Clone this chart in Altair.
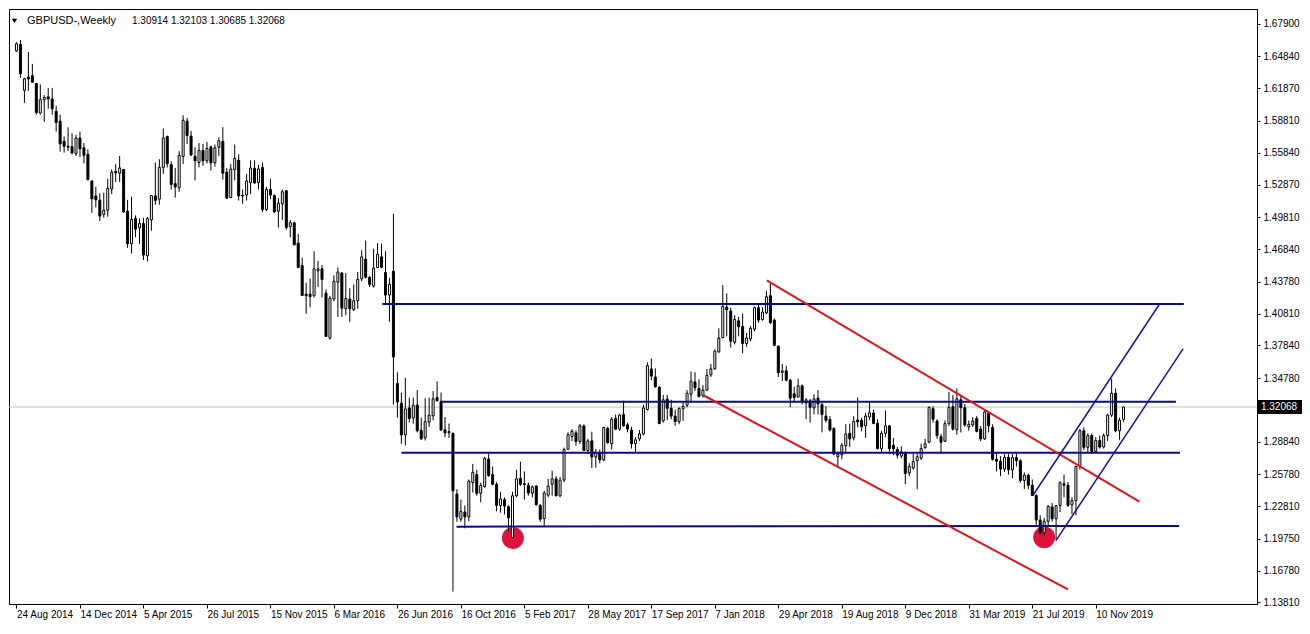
import json
import altair as alt
import pandas as pd

# ---------------- weekly GBPUSD candles ----------------
open_ = [1.6536, 1.6597, 1.6168, 1.6290, 1.6305, 1.6232, 1.5955, 1.6080, 1.6107, 1.6086,
         1.5971, 1.5880, 1.5691, 1.5645, 1.5642, 1.5576, 1.5722, 1.5630, 1.5569, 1.5320,
         1.5180, 1.5140, 1.5007, 1.5047, 1.5245, 1.5410, 1.5393, 1.5427, 1.5037, 1.4733,
         1.4970, 1.4882, 1.4922, 1.4621, 1.4955, 1.5180, 1.5150, 1.5447, 1.5736, 1.5472,
         1.5295, 1.5256, 1.5548, 1.5879, 1.5740, 1.5551, 1.5493, 1.5606, 1.5508, 1.5639,
         1.5490, 1.5635, 1.5690, 1.5402, 1.5165, 1.5426, 1.5514, 1.5186, 1.5189, 1.5305,
         1.5438, 1.5305, 1.5447, 1.5052, 1.5241, 1.5183, 1.5037, 1.5107, 1.5229, 1.4894,
         1.4928, 1.4739, 1.4529, 1.4262, 1.4262, 1.4247, 1.4481, 1.4499, 1.4271, 1.3851,
         1.4216, 1.4374, 1.4459, 1.4125, 1.4216, 1.4116, 1.4201, 1.4405, 1.4590, 1.4420,
         1.4338, 1.4511, 1.4611, 1.4465, 1.4253, 1.4475, 1.3426, 1.3243, 1.2946, 1.3198,
         1.3105, 1.3225, 1.2990, 1.2918, 1.3065, 1.3125, 1.3295, 1.3259, 1.2994, 1.2976,
         1.2960, 1.2392, 1.2158, 1.2225, 1.2180, 1.2500, 1.2575, 1.2400, 1.2462, 1.2720,
         1.2575, 1.2484, 1.2286, 1.2340, 1.2275, 1.1988, 1.2377, 1.2540, 1.2490, 1.2474,
         1.2402, 1.2468, 1.2286, 1.2164, 1.2383, 1.2484, 1.2535, 1.2377, 1.2523, 1.2812,
         1.2931, 1.2965, 1.2885, 1.3030, 1.2800, 1.2890, 1.2740, 1.2780, 1.2712, 1.3007,
         1.2864, 1.3101, 1.3000, 1.3137, 1.3040, 1.2992, 1.2864, 1.2909, 1.2955, 1.3183,
         1.3563, 1.3487, 1.3390, 1.3077, 1.3280, 1.3195, 1.3122, 1.3071, 1.3190, 1.3223,
         1.3326, 1.3441, 1.3381, 1.3314, 1.3365, 1.3508, 1.3563, 1.3721, 1.3855, 1.4141,
         1.4104, 1.3812, 1.4013, 1.3960, 1.3800, 1.3843, 1.3934, 1.4135, 1.4025, 1.4086,
         1.4247, 1.4019, 1.3776, 1.3530, 1.3545, 1.3457, 1.3330, 1.3300, 1.3405, 1.3244,
         1.3265, 1.3198, 1.3290, 1.3229, 1.3122, 1.3090, 1.3007, 1.2742, 1.2760, 1.2845,
         1.2961, 1.2918, 1.3086, 1.3083, 1.3031, 1.3113, 1.3150, 1.3055, 1.2818, 1.2961,
         1.3030, 1.2849, 1.2809, 1.2748, 1.2780, 1.2590, 1.2636, 1.2706, 1.2727, 1.2827,
         1.2878, 1.3191, 1.3076, 1.2930, 1.2887, 1.3051, 1.3210, 1.2995, 1.3275, 1.3200,
         1.3021, 1.3039, 1.3100, 1.3000, 1.2909, 1.3152, 1.3015, 1.2717, 1.2700, 1.2626,
         1.2735, 1.2620, 1.2735, 1.2705, 1.2520, 1.2570, 1.2475, 1.2380, 1.2150, 1.2030,
         1.2138, 1.2272, 1.2162, 1.2287, 1.2490, 1.2475, 1.2292, 1.2330, 1.2651, 1.2985,
         1.2830, 1.2940, 1.2790, 1.2894, 1.2833, 1.2940, 1.3131, 1.3335, 1.2985, 1.30914]
high = [1.6618, 1.6639, 1.6284, 1.6527, 1.6415, 1.6238, 1.6223, 1.6123, 1.6190, 1.6190,
        1.6025, 1.5940, 1.5737, 1.5822, 1.5767, 1.5752, 1.5782, 1.5676, 1.5615, 1.5326,
        1.5265, 1.5205, 1.5211, 1.5341, 1.5427, 1.5478, 1.5554, 1.5433, 1.5144, 1.5174,
        1.4998, 1.4968, 1.4977, 1.4983, 1.5189, 1.5493, 1.5524, 1.5812, 1.5745, 1.5502,
        1.5441, 1.5599, 1.5934, 1.5909, 1.5788, 1.5636, 1.5675, 1.5666, 1.5685, 1.5651,
        1.5660, 1.5727, 1.5824, 1.5441, 1.5478, 1.5660, 1.5569, 1.5241, 1.5387, 1.5514,
        1.5514, 1.5472, 1.5493, 1.5265, 1.5341, 1.5195, 1.5159, 1.5241, 1.5235, 1.4955,
        1.4940, 1.4824, 1.4602, 1.4368, 1.4408, 1.4663, 1.4572, 1.4535, 1.4307, 1.4247,
        1.4438, 1.4511, 1.4469, 1.4459, 1.4317, 1.4353, 1.4469, 1.4672, 1.4763, 1.4429,
        1.4687, 1.4739, 1.4733, 1.4663, 1.4414, 1.5013, 1.3532, 1.3341, 1.3478, 1.3295,
        1.3295, 1.3365, 1.3107, 1.3289, 1.3295, 1.3356, 1.3447, 1.3341, 1.3113, 1.3052,
        1.2970, 1.2438, 1.2341, 1.2286, 1.2529, 1.2675, 1.2620, 1.2499, 1.2742, 1.2772,
        1.2651, 1.2505, 1.2414, 1.2362, 1.2286, 1.2414, 1.2620, 1.2696, 1.2605, 1.2499,
        1.2474, 1.2474, 1.2301, 1.2423, 1.2535, 1.2611, 1.2560, 1.2554, 1.2827, 1.2970,
        1.3000, 1.2990, 1.3048, 1.3045, 1.2910, 1.2975, 1.2815, 1.2810, 1.3022, 1.3022,
        1.3113, 1.3137, 1.3143, 1.3265, 1.3061, 1.3022, 1.2925, 1.2992, 1.3229, 1.3624,
        1.3660, 1.3569, 1.3405, 1.3320, 1.3320, 1.3274, 1.3183, 1.3204, 1.3253, 1.3365,
        1.3539, 1.3533, 1.3466, 1.3411, 1.3563, 1.3609, 1.3745, 1.3943, 1.4347, 1.4268,
        1.4135, 1.4065, 1.4049, 1.4080, 1.3897, 1.3964, 1.4147, 1.4171, 1.4141, 1.4293,
        1.4359, 1.4034, 1.3782, 1.3610, 1.3593, 1.3472, 1.3396, 1.3472, 1.3417, 1.3289,
        1.3283, 1.3326, 1.3365, 1.3244, 1.3213, 1.3122, 1.3016, 1.2788, 1.2870, 1.3046,
        1.3052, 1.3122, 1.3295, 1.3107, 1.3153, 1.3253, 1.3183, 1.3092, 1.2985, 1.3174,
        1.3040, 1.2918, 1.2833, 1.2839, 1.2790, 1.2681, 1.2773, 1.2767, 1.2864, 1.2909,
        1.3213, 1.3213, 1.3091, 1.2954, 1.3082, 1.3349, 1.3319, 1.3380, 1.3319, 1.3234,
        1.3082, 1.3112, 1.3121, 1.3030, 1.3173, 1.3167, 1.3045, 1.2778, 1.2747, 1.2766,
        1.2772, 1.2766, 1.2780, 1.2717, 1.2595, 1.2583, 1.2529, 1.2392, 1.2194, 1.2170,
        1.2290, 1.2310, 1.2290, 1.2514, 1.2575, 1.2505, 1.2362, 1.2657, 1.3001, 1.3016,
        1.2961, 1.2960, 1.2925, 1.2940, 1.2961, 1.3143, 1.3472, 1.3381, 1.3107, 1.32103]
low = [1.6527, 1.6284, 1.6050, 1.6162, 1.6238, 1.5940, 1.5940, 1.5873, 1.5995, 1.5940,
       1.5782, 1.5594, 1.5585, 1.5600, 1.5569, 1.5554, 1.5545, 1.5484, 1.5326, 1.5022,
       1.5074, 1.4946, 1.4977, 1.4986, 1.5196, 1.5311, 1.5311, 1.5022, 1.4694, 1.4642,
       1.4794, 1.4733, 1.4581, 1.4566, 1.4855, 1.5098, 1.5098, 1.5387, 1.5447, 1.5241,
       1.5165, 1.5219, 1.5478, 1.5666, 1.5554, 1.5326, 1.5447, 1.5463, 1.5484, 1.5417,
       1.5453, 1.5554, 1.5332, 1.5159, 1.5159, 1.5326, 1.5137, 1.5107, 1.5137, 1.5198,
       1.5295, 1.5241, 1.5028, 1.5037, 1.5149, 1.5022, 1.4885, 1.4955, 1.4864, 1.4794,
       1.4718, 1.4505, 1.4244, 1.4079, 1.4140, 1.4231, 1.4329, 1.4231, 1.3861, 1.3836,
       1.4195, 1.4049, 1.4049, 1.4064, 1.4003, 1.4104, 1.4125, 1.4383, 1.4408, 1.4329,
       1.4323, 1.4505, 1.4505, 1.4171, 1.4003, 1.3228, 1.3107, 1.2863, 1.2848, 1.3061,
       1.3052, 1.2970, 1.2900, 1.2894, 1.3021, 1.3082, 1.3259, 1.2985, 1.2924, 1.2918,
       1.1480, 1.2134, 1.2134, 1.2073, 1.2140, 1.2408, 1.2377, 1.2316, 1.2453, 1.2554,
       1.2475, 1.2231, 1.2219, 1.2201, 1.2043, 1.1982, 1.2362, 1.2468, 1.2341, 1.2377,
       1.2362, 1.2286, 1.2134, 1.2088, 1.2362, 1.2377, 1.2371, 1.2362, 1.2505, 1.2805,
       1.2888, 1.2845, 1.2860, 1.2795, 1.2770, 1.2635, 1.2640, 1.2680, 1.2700, 1.2864,
       1.2809, 1.2990, 1.2985, 1.3022, 1.2970, 1.2818, 1.2773, 1.2888, 1.2940, 1.3174,
       1.3457, 1.3387, 1.3046, 1.3061, 1.3083, 1.3092, 1.3031, 1.3046, 1.3077, 1.3204,
       1.3244, 1.3356, 1.3295, 1.3295, 1.3356, 1.3487, 1.3557, 1.3715, 1.3850, 1.3867,
       1.3761, 1.3791, 1.3867, 1.3709, 1.3770, 1.3821, 1.3913, 1.3995, 1.4013, 1.4074,
       1.3983, 1.3776, 1.3487, 1.3450, 1.3447, 1.3204, 1.3259, 1.3295, 1.3229, 1.3092,
       1.3061, 1.3137, 1.3137, 1.2970, 1.3061, 1.2979, 1.2757, 1.2651, 1.2718, 1.2773,
       1.2833, 1.2894, 1.3016, 1.2979, 1.2918, 1.3083, 1.3046, 1.2809, 1.2788, 1.2925,
       1.2767, 1.2757, 1.2727, 1.2727, 1.2484, 1.2560, 1.2621, 1.2438, 1.2712, 1.2817,
       1.2869, 1.3061, 1.2909, 1.2766, 1.2878, 1.3030, 1.2985, 1.2948, 1.2969, 1.3021,
       1.2985, 1.3021, 1.2969, 1.2887, 1.2900, 1.2969, 1.2705, 1.2605, 1.2560, 1.2600,
       1.2574, 1.2540, 1.2650, 1.2498, 1.2440, 1.2437, 1.2377, 1.2103, 1.2015, 1.2000,
       1.2090, 1.2135, 1.1960, 1.2225, 1.2362, 1.2271, 1.2205, 1.2195, 1.2621, 1.2803,
       1.2779, 1.2767, 1.2779, 1.2818, 1.2818, 1.2888, 1.3113, 1.2970, 1.2900, 1.30685]
close = [1.6603, 1.6323, 1.6275, 1.6275, 1.6244, 1.5959, 1.6080, 1.6101, 1.6086, 1.5995,
         1.5867, 1.5667, 1.5645, 1.5636, 1.5582, 1.5722, 1.5621, 1.5560, 1.5332, 1.5153,
         1.5144, 1.4992, 1.5047, 1.5250, 1.5402, 1.5396, 1.5442, 1.5031, 1.4733, 1.4961,
         1.4870, 1.4922, 1.4627, 1.4968, 1.5183, 1.5138, 1.5448, 1.5721, 1.5484, 1.5289,
         1.5265, 1.5560, 1.5888, 1.5745, 1.5563, 1.5508, 1.5606, 1.5508, 1.5624, 1.5490,
         1.5630, 1.5697, 1.5393, 1.5159, 1.5432, 1.5530, 1.5180, 1.5180, 1.5320, 1.5441,
         1.5301, 1.5432, 1.5052, 1.5241, 1.5189, 1.5031, 1.5113, 1.5219, 1.4885, 1.4931,
         1.4724, 1.4511, 1.4250, 1.4247, 1.4238, 1.4499, 1.4499, 1.4399, 1.3867, 1.4225,
         1.4383, 1.4469, 1.4131, 1.4222, 1.4125, 1.4201, 1.4399, 1.4611, 1.4420, 1.4353,
         1.4505, 1.4636, 1.4514, 1.4253, 1.4353, 1.3675, 1.3253, 1.2946, 1.3189, 1.3100,
         1.3222, 1.2985, 1.2909, 1.3070, 1.3131, 1.3283, 1.3265, 1.2991, 1.2964, 1.2967,
         1.2423, 1.2179, 1.2231, 1.2180, 1.2514, 1.2596, 1.2400, 1.2474, 1.2727, 1.2566,
         1.2484, 1.2286, 1.2347, 1.2280, 1.2171, 1.2377, 1.2535, 1.2484, 1.2481, 1.2402,
         1.2459, 1.2292, 1.2158, 1.2402, 1.2468, 1.2535, 1.2377, 1.2523, 1.2809, 1.2949,
         1.2979, 1.2885, 1.3030, 1.2800, 1.2890, 1.2740, 1.2780, 1.2712, 1.3016, 1.2873,
         1.3092, 1.3000, 1.3131, 1.3031, 1.3001, 1.2864, 1.2900, 1.2955, 1.3198, 1.3593,
         1.3496, 1.3396, 1.3052, 1.3274, 1.3195, 1.3122, 1.3071, 1.3192, 1.3213, 1.3335,
         1.3448, 1.3387, 1.3305, 1.3365, 1.3502, 1.3563, 1.3730, 1.3852, 1.4147, 1.4116,
         1.3821, 1.4025, 1.3958, 1.3800, 1.3852, 1.3943, 1.4135, 1.4019, 1.4095, 1.4238,
         1.3995, 1.3782, 1.3527, 1.3545, 1.3457, 1.3289, 1.3295, 1.3405, 1.3259, 1.3274,
         1.3204, 1.3283, 1.3235, 1.3137, 1.3083, 1.2992, 1.2767, 1.2767, 1.2849, 1.2955,
         1.2909, 1.3071, 1.3068, 1.3022, 1.3122, 1.3153, 1.3052, 1.2818, 1.2961, 1.3031,
         1.2818, 1.2818, 1.2757, 1.2788, 1.2584, 1.2651, 1.2697, 1.2742, 1.2818, 1.2863,
         1.3203, 1.3091, 1.2939, 1.2878, 1.3051, 1.3203, 1.3000, 1.3283, 1.3200, 1.3039,
         1.3045, 1.3076, 1.2979, 1.2909, 1.3161, 1.3030, 1.2717, 1.2700, 1.2626, 1.2735,
         1.2620, 1.2735, 1.2705, 1.2520, 1.2570, 1.2475, 1.2380, 1.2150, 1.2030, 1.2138,
         1.2278, 1.2162, 1.2285, 1.2499, 1.2475, 1.2287, 1.2332, 1.2651, 1.2985, 1.2830,
         1.2940, 1.2790, 1.2894, 1.2833, 1.2940, 1.3131, 1.3335, 1.2985, 1.3083, 1.32068]
week = list(range(len(close)))

# ---------------- axes ----------------
tick_weeks = [0, 16, 32, 48, 64, 80, 96, 112, 128, 144, 160, 176, 192, 208, 224, 240, 256, 272]
tick_dates = ["24 Aug 2014", "14 Dec 2014", "5 Apr 2015", "26 Jul 2015", "15 Nov 2015",
              "6 Mar 2016", "26 Jun 2016", "16 Oct 2016", "5 Feb 2017", "28 May 2017",
              "17 Sep 2017", "7 Jan 2018", "29 Apr 2018", "19 Aug 2018", "9 Dec 2018",
              "31 Mar 2019", "21 Jul 2019", "10 Nov 2019"]
price_ticks = [1.67900, 1.64840, 1.61870, 1.58810, 1.55840, 1.52870, 1.49810, 1.46840,
               1.43780, 1.40810, 1.37840, 1.34780, 1.28840, 1.25780, 1.22810, 1.19750,
               1.16780, 1.13810]

# ---------------- drawn objects ----------------
level_w1 = [92.2, 106.9, 97.0, 110.9]
level_w2 = [294.2, 292.2, 293.2, 293.0]
level_p1 = [1.4170, 1.3256, 1.2778, 1.2088]
level_p2 = [1.4170, 1.3256, 1.2778, 1.2095]

red_w1 = [189.1, 173.0]
red_w2 = [283.0, 265.0]
red_p1 = [1.4390, 1.3319]
red_p2 = [1.2322, 1.1501]

chan_w1 = [256.1, 262.0]
chan_w2 = [288.0, 294.0]
chan_p1 = [1.2377, 1.1960]
chan_p2 = [1.4165, 1.3750]

circle_w = [125.1, 259.0]
circle_p = [1.1982, 1.1988]

symbol_name = "GBPUSD-,Weekly"
last_ohlc = [1.30914, 1.32103, 1.30685, 1.32068]
last_price = 1.32068

W, H = 1248, 595
FONT = "Liberation Sans"

xscale = alt.Scale(domain=[-0.625, 311.375], nice=False, zero=False)
yscale = alt.Scale(domain=[1.1365, 1.6928], nice=False, zero=False)

label_expr = f"{json.dumps(tick_dates)}[indexof({json.dumps(tick_weeks)}, datum.value)]"
xaxis = alt.Axis(values=tick_weeks, labelExpr=label_expr, orient="bottom", title=None,
                 grid=False, tickSize=4, tickColor="black", domainColor="black",
                 labelAlign="left", labelBaseline="top", labelPadding=1,
                 labelFont=FONT, labelFontSize=10, labelColor="black",
                 labelOverlap=False, labelBound=False, labelFlush=False)
yaxis = alt.Axis(values=price_ticks, format=".5f", orient="right", title=None, grid=False,
                 tickSize=3, tickColor="black", domainColor="black", labelPadding=3,
                 labelFont=FONT, labelFontSize=10, labelColor="black",
                 labelOverlap=False, labelBound=False, labelFlush=False)


def X(f):
    return alt.X(f, type="quantitative", scale=xscale, axis=xaxis)


def Y(f):
    return alt.Y(f, type="quantitative", scale=yscale, axis=yaxis)


candles = pd.DataFrame({"w": week, "o": open_, "h": high, "l": low, "c": close})

levels = pd.DataFrame({"w1": level_w1, "w2": level_w2, "p1": level_p1, "p2": level_p2})
reds = pd.DataFrame({"w1": red_w1, "w2": red_w2, "p1": red_p1, "p2": red_p2})
chans = pd.DataFrame({"w1": chan_w1, "w2": chan_w2, "p1": chan_p1, "p2": chan_p2})
circles = pd.DataFrame({"w": circle_w, "p": circle_p})

price_line = alt.Chart(pd.DataFrame({"p": [last_price]})).mark_rule(
    color="#C0C0C0", strokeWidth=1).encode(y=Y("p"))

circle_layer = alt.Chart(circles).mark_circle(size=480, color="#DC143C", opacity=1).encode(
    x=X("w"), y=Y("p"))

wicks = alt.Chart(candles).mark_rule(color="black", strokeWidth=1).encode(
    x=X("w"), y=Y("l"), y2="h")

bodies = alt.Chart(candles).mark_bar(width=2, stroke="black", strokeWidth=1).encode(
    x=X("w"), y=Y("o"), y2="c",
    fill=alt.condition("datum.c >= datum.o", alt.value("white"), alt.value("black")))

level_layer = alt.Chart(levels).mark_rule(color="#0A0A8C", strokeWidth=2).encode(
    x=X("w1"), x2="w2", y=Y("p1"), y2="p2")
red_layer = alt.Chart(reds).mark_rule(color="#E01414", strokeWidth=2).encode(
    x=X("w1"), x2="w2", y=Y("p1"), y2="p2")
chan_layer = alt.Chart(chans).mark_rule(color="#1414A0", strokeWidth=1.5).encode(
    x=X("w1"), x2="w2", y=Y("p1"), y2="p2")

tri = alt.Chart(pd.DataFrame({"t": [0]})).mark_point(
    shape="triangle-down", filled=True, color="black", size=28, opacity=1).encode(
    x=alt.value(5.5), y=alt.value(12))
name_text = alt.Chart(pd.DataFrame({"t": [symbol_name]})).mark_text(
    font=FONT, fontSize=11, color="black", align="left", baseline="alphabetic").encode(
    x=alt.value(18), y=alt.value(14.5), text="t:N")
ohlc_text = alt.Chart(pd.DataFrame({"t": ["\u00a0".join(f"{v:.5f}" for v in last_ohlc)]})).mark_text(
    font=FONT, fontSize=10, color="black", align="left", baseline="alphabetic").encode(
    x=alt.value(123), y=alt.value(14.5), text="t:N")

box_path = "M-1,-0.32L1,-0.32L1,0.32L-1,0.32Z"
price_box = alt.Chart(pd.DataFrame({"p": [last_price]})).mark_point(
    shape=box_path, filled=True, color="black", size=44 * 44, opacity=1, strokeWidth=0).encode(
    x=alt.value(W + 23), y=Y("p"))
price_txt = alt.Chart(pd.DataFrame({"p": [last_price], "t": [f"{last_price:.5f}"]})).mark_text(
    font=FONT, fontSize=10, color="white", align="center", baseline="middle").encode(
    x=alt.value(W + 22), y=Y("p"), text="t:N")

chart = alt.layer(
    price_line, circle_layer, wicks, bodies, level_layer, red_layer, chan_layer,
    tri, name_text, ohlc_text, price_box, price_txt
).properties(
    width=W, height=H,
    autosize=alt.AutoSizeParams(type="none"),
    padding={"left": 1, "top": 1, "right": 45, "bottom": 20},
    background="white",
).configure_view(stroke="black", strokeWidth=1)

chart.save("out.html", embed_options={"renderer": "svg", "actions": False})
